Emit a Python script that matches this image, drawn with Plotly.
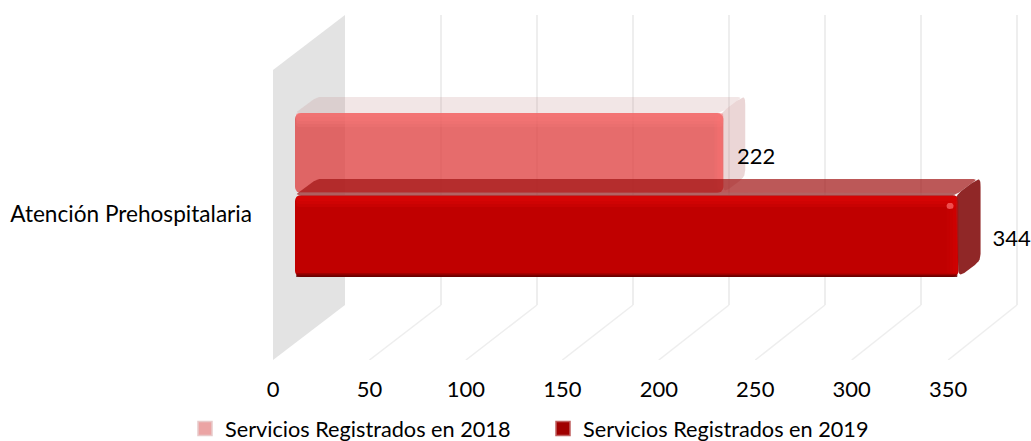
import plotly.graph_objects as go

# ---- data ----
category = "Atención Prehospitalaria"
series_names = ["Servicios Registrados en 2018", "Servicios Registrados en 2019"]
series_values = [222, 344]
x_ticks = [0, 50, 100, 150, 200, 250, 300, 350]

# ---- geometry ----
W, H = 1031, 441
LEFT, BOTTOM_PX, TOP_PX = 273, 360, 10
PX = 1.929  # px per value unit on the front plane
BACK_PX = 1.92  # px per value unit on the back plane
FONT = "Lato"
FS = 22
wall_dx, wall_dy = 72, 55
wall_h = 290
bar_front_px = 22
bar_dx, bar_dy = 22, 16
bar_bands = [(167, 247), (83, 165)]  # y-extent of each front face (up from floor)


def xv(px):
    return px / PX


def rounded(points, r=5, n=5):
    """points in px space -> data coords with softly rounded corners."""
    out = []
    m = len(points)
    for i, (x, y) in enumerate(points):
        x0, y0 = points[i - 1]
        x1, y1 = points[(i + 1) % m]
        d0 = max(((x0 - x) ** 2 + (y0 - y) ** 2) ** 0.5, 1e-6)
        d1 = max(((x1 - x) ** 2 + (y1 - y) ** 2) ** 0.5, 1e-6)
        a = (x + (x0 - x) * min(r, d0 / 2) / d0, y + (y0 - y) * min(r, d0 / 2) / d0)
        b = (x + (x1 - x) * min(r, d1 / 2) / d1, y + (y1 - y) * min(r, d1 / 2) / d1)
        for k in range(n + 1):
            t = k / n
            out.append(((1 - t) ** 2 * a[0] + 2 * t * (1 - t) * x + t ** 2 * b[0],
                        (1 - t) ** 2 * a[1] + 2 * t * (1 - t) * y + t ** 2 * b[1]))
    return [p[0] / PX for p in out] + [out[0][0] / PX], [p[1] for p in out] + [out[0][1]]


fig = go.Figure()


def poly(points, color, r=5):
    xs, ys = rounded(points, r)
    fig.add_trace(go.Scatter(x=xs, y=ys, mode="lines", fill="toself", fillcolor=color,
                             line=dict(width=0), hoverinfo="skip", showlegend=False))


def styled_faces(i, top, side):
    v = series_values[i] * PX + bar_front_px
    lo, hi = bar_bands[i]
    poly([(bar_front_px, hi), (bar_front_px + bar_dx, hi + bar_dy), (v + bar_dx - 3, hi + bar_dy), (v - 3, hi)], top, 4)
    poly([(v - 3, hi), (v + bar_dx - 3, hi + bar_dy), (v + bar_dx, hi + bar_dy - 1), (v + bar_dx, lo + bar_dy), (v, lo)], side, 7)


# front faces: real bars through the value axis
front = ["rgba(222,62,62,0.76)", "#c00000"]
for i, val in enumerate(series_values):
    lo, hi = bar_bands[i]
    fig.add_trace(go.Bar(x=[val], y=[(lo + hi) / 2], base=[xv(bar_front_px)], width=[hi - lo], orientation="h",
                         marker=dict(color=front[i], line=dict(width=0), cornerradius=6),
                         hovertemplate=f"{series_names[i]}: {val}<extra></extra>", showlegend=False))

# 2018: faint translucent back box, then its highlights
styled_faces(0, "rgba(190,130,130,0.20)", "rgba(190,120,120,0.30)")
v0 = series_values[0] * PX + bar_front_px
lo0, hi0 = bar_bands[0]
for depth, alpha in [(14, 0.18), (11, 0.2), (8, 0.22), (4, 0.15)]:
    poly([(bar_front_px + 1, hi0 - depth), (bar_front_px + 1, hi0), (v0, hi0), (v0, hi0 - depth)],
         f"rgba(255,125,125,{alpha})", 3)
for depth, alpha in [(9, 0.2), (6, 0.25), (3, 0.2)]:
    poly([(v0 - depth, lo0 + 3), (v0 - depth, hi0 - 3), (v0, hi0 - 3), (v0, lo0 + 3)],
         f"rgba(255,115,115,{alpha})", 3)

# 2019: translucent top, solid side, highlights
styled_faces(1, "rgba(160,20,20,0.71)", "rgba(140,32,32,0.97)")
v1 = series_values[1] * PX + bar_front_px
lo1, hi1 = bar_bands[1]
poly([(bar_front_px + 4, hi1 - 1), (bar_front_px + 4, hi1 + 3), (v1 - 3, hi1 + 3), (v1 - 3, hi1 - 1)],
     "rgba(170,110,110,0.5)", 1)
for depth, alpha in [(12, 0.22), (9, 0.28), (6, 0.3)]:
    poly([(bar_front_px + 1, hi1 - depth), (bar_front_px + 1, hi1 - 1), (v1 - 1, hi1 - 1), (v1 - 1, hi1 - depth)],
         f"rgba(228,8,8,{alpha})", 3)
for depth, alpha in [(4, 0.35), (2.5, 0.5), (1.2, 0.6)]:
    poly([(bar_front_px + 1, lo1), (bar_front_px + 1, lo1 + depth), (v1 - 1, lo1 + depth), (v1 - 1, lo1)],
         f"rgba(95,0,0,{alpha})", 1)
for depth, alpha in [(12, 0.12), (9, 0.15), (6, 0.2), (3, 0.2)]:
    poly([(v1 - depth, lo1 + 3), (v1 - depth, hi1 - 5), (v1 - 1, hi1 - 5), (v1 - 1, lo1 + 3)],
         f"rgba(224,6,6,{alpha})", 3)
poly([(v1 - 12, hi1 - 14), (v1 - 12, hi1 - 8), (v1 - 5, hi1 - 8), (v1 - 5, hi1 - 14)], "rgba(255,110,110,0.7)", 3)

# data labels
label_offsets = [33, 53]
label_y = [158, 240]
for i, val in enumerate(series_values):
    fig.add_trace(go.Scatter(x=[val + xv(bar_front_px + label_offsets[i])], y=[BOTTOM_PX - label_y[i]],
                             mode="text", text=[str(val)], textposition="middle center", cliponaxis=False,
                             textfont=dict(family=FONT, size=FS, color="#000000"),
                             hoverinfo="skip", showlegend=False))

# legend entries
legend_colors = ["#eba4a4", "#a00000"]
legend_lines = ["#e8caca", "#c06060"]
for i, name in enumerate(series_names):
    fig.add_trace(go.Scatter(x=[None], y=[None], mode="markers", name=name,
                             marker=dict(symbol="square", size=14, color=legend_colors[i],
                                         line=dict(color=legend_lines[i], width=1.5))))

# wall + gridlines, derived from the axis ticks
shapes = []
wall_xs = [0, wall_dx, wall_dx, 0]
wall_ys = [0, wall_dy, wall_dy + wall_h, wall_h]
path = "M " + " L ".join(f"{xv(a)},{b}" for a, b in zip(wall_xs, wall_ys)) + " Z"
shapes.append(dict(type="path", path=path, xref="x", yref="y", layer="below",
                   fillcolor="#e3e3e3", line=dict(width=0)))
for t in x_ticks[1:]:
    back = xv(wall_dx + t * BACK_PX)
    shapes.append(dict(type="line", xref="x", yref="y", layer="below", x0=t, y0=0, x1=back, y1=wall_dy,
                       line=dict(color="#eeeeee", width=1.5)))
    shapes.append(dict(type="line", xref="x", yref="y", layer="below", x0=back, y0=wall_dy, x1=back,
                       y1=wall_dy + wall_h, line=dict(color="#eeeeee", width=2)))

fig.update_layout(
    width=W, height=H,
    margin=dict(l=LEFT, r=0, t=TOP_PX, b=H - BOTTOM_PX, autoexpand=False, pad=0),
    paper_bgcolor="white", plot_bgcolor="white",
    barmode="overlay",
    font=dict(family=FONT, size=FS, color="#000000"),
    shapes=shapes,
    xaxis=dict(range=[0, (W - LEFT) / PX], tickmode="array", tickvals=x_ticks, showgrid=False, zeroline=False,
               showline=False, ticks="", ticklabelstandoff=14, tickfont=dict(family=FONT, size=FS), fixedrange=True),
    yaxis=dict(range=[0, BOTTOM_PX - TOP_PX], tickmode="array", tickvals=[BOTTOM_PX - 214], ticktext=[category],
               showgrid=False, zeroline=False, showline=False, ticks="", ticklabelstandoff=20,
               tickfont=dict(family=FONT, size=22.6), fixedrange=True),
    legend=dict(orientation="h", x=(185 - LEFT) / (W - LEFT), xanchor="left",
                y=(BOTTOM_PX - 408) / (BOTTOM_PX - TOP_PX), yanchor="top",
                entrywidth=313, entrywidthmode="pixels", font=dict(family=FONT, size=21.7),
                bgcolor="rgba(0,0,0,0)", itemclick=False, itemdoubleclick=False),
    showlegend=True,
)

fig.write_html("out.html", config={"displayModeBar": False},
               post_script="document.body.style.margin='0';document.body.style.overflow='hidden';")
